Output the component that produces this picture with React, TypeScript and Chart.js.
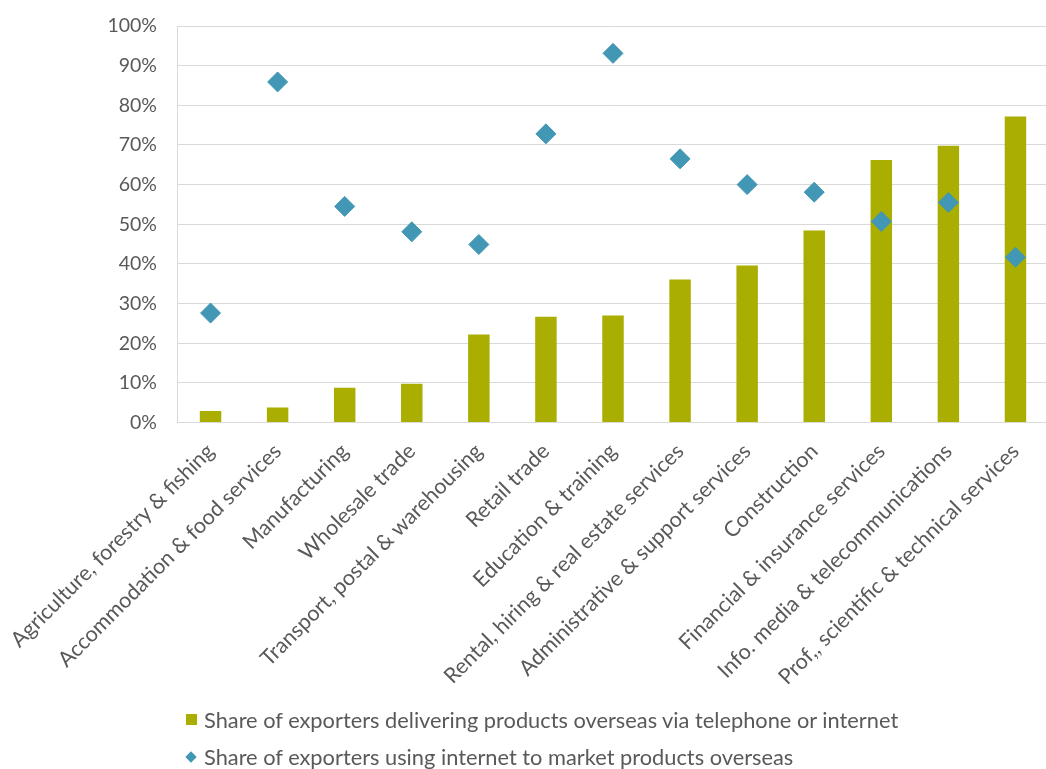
import React, { useEffect, useRef } from "react";
import { Chart, registerables } from "chart.js";

Chart.register(...registerables);

const categories = [
  "Agriculture, forestry & fishing",
  "Accommodation & food services",
  "Manufacturing",
  "Wholesale trade",
  "Transport, postal & warehousing",
  "Retail trade",
  "Education & training",
  "Rental, hiring & real estate services",
  "Administrative & support services",
  "Construction",
  "Financial & insurance services",
  "Info. media & telecommunications",
  "Prof,, scientific & technical services",
];

const deliveringShare = [2.9, 3.8, 8.8, 9.8, 22.2, 26.7, 27.0, 36.1, 39.6, 48.4, 66.2, 69.8, 77.2];
const marketingShare = [27.6, 85.9, 54.5, 48.1, 44.9, 72.8, 93.1, 66.5, 60.0, 58.1, 50.7, 55.5, 41.7];

const seriesLabels = [
  "Share of exporters delivering products overseas via telephone or internet",
  "Share of exporters using internet to market products overseas",
];

const BAR_COLOR = "#A9AE00";
const DOT_COLOR = "#4297B5";
const TEXT_COLOR = "#595959";
const GRID_COLOR = "#D9D9D9";
const FONT = "Lato, 'Open Sans', sans-serif";

export default function App() {
  const canvasRef = useRef<HTMLCanvasElement | null>(null);

  useEffect(() => {
    document.body.style.overflow = "hidden";
    const canvas = canvasRef.current;
    if (!canvas) return;
    const chart = new Chart(canvas, {
      data: {
        labels: categories,
        datasets: [
          {
            type: "scatter" as any,
            label: seriesLabels[1],
            data: marketingShare as any,
            backgroundColor: DOT_COLOR,
            borderColor: DOT_COLOR,
            pointStyle: "rectRot",
            pointRadius: 10,
            pointHoverRadius: 10,
            showLine: false,
            order: 0,
          },
          {
            type: "bar",
            label: seriesLabels[0],
            data: deliveringShare,
            backgroundColor: BAR_COLOR,
            borderWidth: 0,
            barPercentage: 0.32,
            categoryPercentage: 1,
            order: 1,
          },
        ],
      },
      options: {
        animation: false,
        responsive: false,
        maintainAspectRatio: false,
        layout: { padding: { left: 0, right: 0, top: 26, bottom: 63 } },
        plugins: { legend: { display: false }, tooltip: { enabled: false } },
        scales: {
          x: {
            type: "category",
            offset: true,
            grid: { display: false, drawTicks: false },
            border: { display: true, color: GRID_COLOR, width: 1 },
            afterFit: (scale: any) => {
              scale.paddingLeft = 0;
              scale.paddingRight = 0;
            },
            ticks: {
              color: TEXT_COLOR,
              font: { family: FONT, size: 21.5 },
              minRotation: 45,
              maxRotation: 45,
              autoSkip: false,
              padding: 16,
            },
          },
          y: {
            min: 0,
            max: 100,
            afterFit: (scale: any) => {
              scale.width = 177;
            },
            grid: {
              color: GRID_COLOR,
              drawTicks: true,
              tickLength: 14,
              tickColor: "rgba(0,0,0,0)",
              lineWidth: 1,
            },
            border: { display: true, color: GRID_COLOR, width: 1 },
            ticks: {
              stepSize: 10,
              color: TEXT_COLOR,
              font: { family: FONT, size: 19.5 },
              padding: 6,
              callback: (v: any) => `${v}%`,
            },
          },
        },
      },
    });
    return () => chart.destroy();
  }, []);

  const legendText: React.CSSProperties = {
    fontFamily: FONT,
    fontSize: 21.8,
    color: TEXT_COLOR,
    whiteSpace: "nowrap",
  };

  return (
    <div style={{ position: "absolute", left: 0, top: 0, width: 1060, height: 769 }}>
      <canvas ref={canvasRef} width={1060} height={769} style={{ display: "block" }} />
      <div style={{ position: "absolute", left: 186, top: 706, display: "flex", alignItems: "center", ...legendText }}>
        <span style={{ display: "inline-block", width: 11, height: 11, background: BAR_COLOR, marginRight: 7 }} />
        <span>{seriesLabels[0]}</span>
      </div>
      <div style={{ position: "absolute", left: 186, top: 743, display: "flex", alignItems: "center", ...legendText }}>
        <span style={{ display: "inline-block", width: 8, height: 8, background: DOT_COLOR, transform: "rotate(45deg)", marginLeft: 1, marginRight: 9 }} />
        <span>{seriesLabels[1]}</span>
      </div>
    </div>
  );
}
